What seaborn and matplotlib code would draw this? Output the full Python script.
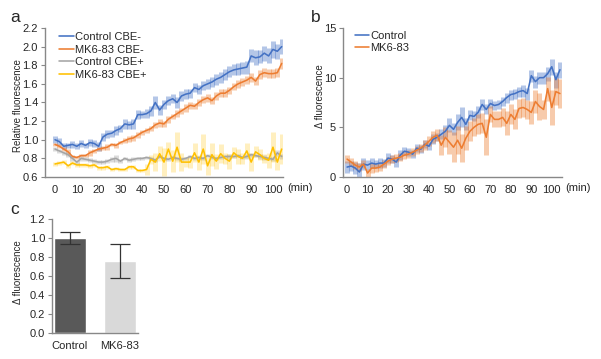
import numpy as np
import pandas as pd
import matplotlib
matplotlib.use("Agg")
import matplotlib.pyplot as plt
import seaborn as sns

sns.set_theme(style="white")
plt.rcParams['font.family'] = ['Liberation Sans', 'DejaVu Sans']

# ---------------- data ----------------
time_min = list(range(0, 106, 2))  # 0..104 min, every 2 min

ctrl_cbe_minus = [1.00, 0.98, 0.93, 0.94, 0.95, 0.93, 0.96, 0.94, 0.97, 0.96,
                  0.93, 1.03, 1.06, 1.07, 1.10, 1.12, 1.17, 1.16, 1.17, 1.27,
                  1.27, 1.28, 1.31, 1.40, 1.32, 1.38, 1.42, 1.44, 1.40, 1.47,
                  1.49, 1.50, 1.56, 1.54, 1.58, 1.60, 1.62, 1.65, 1.67, 1.70,
                  1.73, 1.75, 1.76, 1.77, 1.78, 1.90, 1.88, 1.89, 1.93, 1.90,
                  1.97, 1.95, 2.00]
ctrl_cbe_minus_err = [0.04, 0.04, 0.03, 0.03, 0.04, 0.03, 0.04, 0.03, 0.04, 0.04,
                      0.05, 0.04, 0.04, 0.04, 0.05, 0.04, 0.05, 0.04, 0.05, 0.05,
                      0.04, 0.05, 0.05, 0.07, 0.05, 0.05, 0.05, 0.05, 0.06, 0.05,
                      0.05, 0.05, 0.05, 0.05, 0.05, 0.05, 0.05, 0.06, 0.06, 0.06,
                      0.06, 0.06, 0.06, 0.06, 0.07, 0.07, 0.08, 0.07, 0.08, 0.08,
                      0.09, 0.08, 0.08]

mk_cbe_minus = [0.95, 0.93, 0.90, 0.87, 0.82, 0.81, 0.83, 0.83, 0.86, 0.88,
                0.90, 0.91, 0.92, 0.95, 0.94, 0.97, 0.99, 1.01, 1.02, 1.05,
                1.08, 1.10, 1.12, 1.16, 1.18, 1.17, 1.22, 1.25, 1.28, 1.31,
                1.34, 1.37, 1.36, 1.40, 1.43, 1.45, 1.42, 1.47, 1.50, 1.50,
                1.53, 1.57, 1.60, 1.62, 1.64, 1.67, 1.63, 1.70, 1.72, 1.71,
                1.71, 1.72, 1.82]
mk_cbe_minus_err = [0.02, 0.02, 0.02, 0.03, 0.02, 0.02, 0.02, 0.02, 0.03, 0.02,
                    0.02, 0.02, 0.03, 0.02, 0.03, 0.02, 0.03, 0.03, 0.03, 0.03,
                    0.03, 0.03, 0.03, 0.03, 0.04, 0.03, 0.04, 0.03, 0.04, 0.03,
                    0.04, 0.04, 0.03, 0.04, 0.04, 0.04, 0.04, 0.04, 0.04, 0.04,
                    0.04, 0.04, 0.04, 0.04, 0.04, 0.05, 0.04, 0.05, 0.05, 0.05,
                    0.05, 0.05, 0.06]

ctrl_cbe_plus = [0.90, 0.88, 0.86, 0.84, 0.80, 0.76, 0.80, 0.79, 0.78, 0.77,
                 0.76, 0.76, 0.77, 0.79, 0.80, 0.77, 0.80, 0.78, 0.79, 0.80,
                 0.80, 0.81, 0.80, 0.78, 0.82, 0.80, 0.79, 0.81, 0.80, 0.79,
                 0.80, 0.82, 0.80, 0.81, 0.80, 0.83, 0.81, 0.80, 0.81, 0.82,
                 0.82, 0.82, 0.83, 0.81, 0.82, 0.84, 0.83, 0.82, 0.81, 0.80,
                 0.79, 0.86, 0.82]
ctrl_cbe_plus_err = [0.02, 0.02, 0.02, 0.03, 0.03, 0.02, 0.03, 0.02, 0.02, 0.02,
                     0.02, 0.02, 0.02, 0.03, 0.04, 0.02, 0.02, 0.02, 0.02, 0.02,
                     0.02, 0.02, 0.02, 0.02, 0.02, 0.02, 0.02, 0.02, 0.02, 0.02,
                     0.02, 0.02, 0.02, 0.02, 0.02, 0.02, 0.02, 0.02, 0.02, 0.02,
                     0.03, 0.02, 0.02, 0.02, 0.03, 0.02, 0.02, 0.03, 0.03, 0.02,
                     0.02, 0.03, 0.03]

mk_cbe_plus = [0.74, 0.75, 0.76, 0.72, 0.75, 0.73, 0.73, 0.73, 0.72, 0.73,
               0.70, 0.70, 0.71, 0.68, 0.69, 0.68, 0.68, 0.71, 0.71, 0.67,
               0.67, 0.68, 0.79, 0.76, 0.85, 0.76, 0.90, 0.77, 0.92, 0.76,
               0.76, 0.76, 0.86, 0.76, 0.90, 0.72, 0.84, 0.77, 0.85, 0.80,
               0.77, 0.86, 0.82, 0.80, 0.88, 0.76, 0.87, 0.84, 0.80, 0.78,
               0.92, 0.76, 0.90]
mk_cbe_plus_err = [0.02, 0.02, 0.02, 0.02, 0.02, 0.02, 0.02, 0.02, 0.02, 0.02,
                   0.02, 0.02, 0.02, 0.02, 0.02, 0.02, 0.02, 0.02, 0.02, 0.02,
                   0.02, 0.06, 0.05, 0.10, 0.08, 0.15, 0.08, 0.12, 0.16, 0.10,
                   0.05, 0.06, 0.10, 0.08, 0.16, 0.10, 0.12, 0.08, 0.10, 0.06,
                   0.08, 0.06, 0.08, 0.06, 0.08, 0.10, 0.06, 0.06, 0.05, 0.08,
                   0.16, 0.08, 0.16]

ctrl_delta = [1.0, 1.1, 0.9, 0.5, 1.3, 1.2, 1.4, 1.3, 1.4, 1.4,
              1.9, 1.8, 1.5, 2.2, 2.6, 2.5, 2.3, 2.9, 2.8, 3.3,
              3.1, 3.8, 4.0, 4.3, 4.6, 5.2, 4.8, 5.5, 6.0, 5.3,
              6.2, 6.1, 6.5, 7.3, 6.8, 7.4, 7.2, 7.3, 7.6, 8.0,
              8.3, 8.4, 8.6, 8.7, 8.4, 10.2, 9.6, 10.0, 10.0, 10.4,
              11.1, 9.8, 10.8]
ctrl_delta_err = [0.6, 0.5, 0.6, 0.9, 0.6, 0.5, 0.5, 0.4, 0.5, 0.4,
                  0.5, 0.4, 0.5, 0.5, 0.4, 0.4, 0.4, 0.4, 0.4, 0.4,
                  0.4, 0.5, 0.4, 0.5, 0.6, 0.7, 0.6, 0.8, 1.0, 0.6,
                  0.5, 0.5, 0.6, 0.6, 0.5, 0.5, 0.5, 0.5, 0.5, 0.5,
                  0.5, 0.5, 0.5, 0.6, 0.6, 0.6, 0.6, 0.6, 0.6, 0.7,
                  0.8, 0.8, 0.8]

mk_delta = [1.8, 1.5, 1.2, 1.0, 1.3, 0.4, 0.9, 0.9, 1.0, 1.3,
            1.6, 1.8, 1.9, 2.0, 2.2, 2.3, 2.5, 2.7, 2.9, 3.2,
            3.6, 4.0, 4.2, 3.2, 4.0, 3.5, 3.0, 3.7, 2.9, 3.9,
            4.6, 5.0, 5.3, 5.4, 4.0, 6.3, 5.8, 5.8, 6.0, 5.4,
            6.3, 5.8, 6.9, 7.0, 6.8, 6.5, 7.6, 7.1, 6.8, 8.9,
            7.0, 8.6, 8.4]
mk_delta_err = [0.4, 0.4, 0.4, 0.4, 0.4, 0.4, 0.5, 0.4, 0.4, 0.4,
                0.4, 0.4, 0.4, 0.4, 0.4, 0.4, 0.4, 0.4, 0.4, 0.5,
                0.5, 0.6, 0.6, 1.0, 1.0, 1.2, 1.5, 1.4, 1.4, 1.2,
                1.0, 0.9, 1.0, 1.0, 1.8, 0.8, 0.8, 0.8, 0.9, 1.2,
                1.0, 1.0, 1.0, 1.0, 1.0, 1.2, 1.2, 1.4, 1.0, 1.2,
                1.8, 1.4, 1.5]

bar_groups = ["Control", "MK6-83"]
bar_values = [1.00, 0.76]
bar_errors = [0.06, 0.18]

# ---------------- styling ----------------
BLUE = "#4472C4"
ORANGE = "#ED7D31"
GRAY = "#A5A5A5"
YELLOW = "#FFC000"
AXC = "#888888"
FS = 8
LFS = 7

W, H = 601, 359
fig = plt.figure(figsize=(W / 100, H / 100), dpi=100)


def px_axes(l, t, r, b):
    return fig.add_axes([l / W, 1 - b / H, (r - l) / W, (b - t) / H])


def style_axes(ax, xticks_on=False):
    sns.despine(ax=ax)
    for s in ("left", "bottom"):
        ax.spines[s].set_color(AXC)
        ax.spines[s].set_linewidth(1.0)
    ax.tick_params(axis="y", which="both", left=True, length=3, width=0.8,
                   color=AXC, labelsize=FS, pad=2)
    ax.tick_params(axis="x", bottom=xticks_on, length=3, width=0.8,
                   color=AXC, labelsize=FS, pad=3)


def draw_series(ax, x, y, err, color, label, alpha=0.4):
    ax.errorbar(x, y, yerr=err, fmt="none", ecolor=color, elinewidth=3.6,
                alpha=alpha, zorder=1)
    df = pd.DataFrame({"t": x, "v": y})
    sns.lineplot(data=df, x="t", y="v", ax=ax, color=color, linewidth=1.15,
                 label=label, zorder=3)


# ---- panel a ----
axa = px_axes(45, 28, 283, 177)
draw_series(axa, time_min, ctrl_cbe_minus, ctrl_cbe_minus_err, BLUE, "Control CBE-")
draw_series(axa, time_min, mk_cbe_minus, mk_cbe_minus_err, ORANGE, "MK6-83 CBE-")
draw_series(axa, time_min, ctrl_cbe_plus, ctrl_cbe_plus_err, GRAY, "Control CBE+")
draw_series(axa, time_min, mk_cbe_plus, mk_cbe_plus_err, YELLOW, "MK6-83 CBE+", alpha=0.25)
axa.set_xlim(-4.6, 104.6)
axa.set_ylim(0.6, 2.2)
axa.set_yticks(np.arange(0.6, 2.21, 0.2))
axa.set_yticklabels([f"{v:.1f}" for v in np.arange(0.6, 2.21, 0.2)])
axa.set_xticks(range(0, 101, 10))
axa.set_xlabel("")
axa.set_ylabel("Relative fluorescence", fontsize=LFS)
axa.yaxis.set_label_coords(-0.092, 0.477)
style_axes(axa)
axa.legend(loc="upper left", bbox_to_anchor=(0.06, 0.975), frameon=False,
           fontsize=FS, handlelength=1.3, handletextpad=0.1, labelspacing=0.25,
           borderpad=0, borderaxespad=0)

# ---- panel b ----
axb = px_axes(343, 28, 562, 177)
draw_series(axb, time_min, ctrl_delta, ctrl_delta_err, BLUE, "Control")
draw_series(axb, time_min, mk_delta, mk_delta_err, ORANGE, "MK6-83")
axb.set_xlim(-2, 105)
axb.set_ylim(0, 15)
axb.set_yticks([0, 5, 10, 15])
axb.set_xticks(range(0, 101, 10))
axb.set_xlabel("")
axb.set_ylabel("Δ fluorescence", fontsize=LFS)
axb.yaxis.set_label_coords(-0.082, 0.54)
style_axes(axb)
axb.legend(loc="upper left", bbox_to_anchor=(0.055, 0.98), frameon=False,
           fontsize=FS, handlelength=1.3, handletextpad=0.1, labelspacing=0.15,
           borderpad=0, borderaxespad=0)

# ---- panel c ----
axc = px_axes(52, 219, 138, 333)
dfc = pd.DataFrame({"g": bar_groups, "v": bar_values})
sns.barplot(data=dfc, x="g", y="v", hue="g", palette=["#595959", "#D9D9D9"],
            ax=axc, width=0.64, errorbar=None, legend=False, saturation=1)
axc.errorbar(range(len(bar_groups)), bar_values, yerr=bar_errors, fmt="none",
             ecolor="#333333", elinewidth=0.9, capsize=7, capthick=0.9, zorder=4)
axc.set_xlim(-0.36, 1.36)
axc.set_ylim(0, 1.2)
axc.set_yticks(np.arange(0, 1.21, 0.2))
axc.set_yticklabels([f"{v:.1f}" for v in np.arange(0, 1.21, 0.2)])
axc.set_xlabel("")
axc.set_ylabel("Δ fluorescence", fontsize=LFS)
axc.yaxis.set_label_coords(-0.337, 0.535)
style_axes(axc)

# ---- extra text ----
fig.text(287 / W, 1 - 188 / H, "(min)", fontsize=FS, va="center", ha="left")
fig.text(565 / W, 1 - 188 / H, "(min)", fontsize=FS, va="center", ha="left")
fig.text(10 / W, 1 - 17 / H, "a", fontsize=12.5, va="center", ha="left")
fig.text(311 / W, 1 - 17 / H, "b", fontsize=12.5, va="center", ha="left")
fig.text(10 / W, 1 - 209 / H, "c", fontsize=12.5, va="center", ha="left")

fig.savefig("out.png", dpi=100)
